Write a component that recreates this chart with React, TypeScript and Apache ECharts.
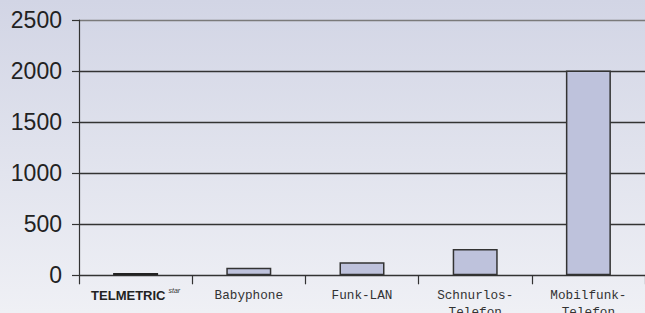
import React, { useEffect, useRef } from "react";
import * as echarts from "echarts";

const categories = ["TELMETRIC", "Babyphone", "Funk-LAN", "Schnurlos-\nTelefon", "Mobilfunk-\nTelefon"];
const values = [22, 75, 128, 258, 2006];
const yTicks = [0, 500, 1000, 1500, 2000, 2500];

export default function App() {
  const ref = useRef<HTMLDivElement>(null);
  useEffect(() => {
    const chart = echarts.init(ref.current!, null, { renderer: "svg" });
    chart.setOption({
      animation: false,
      backgroundColor: "transparent",
      grid: { left: 79, right: 0, top: 20, bottom: 37.7, containLabel: false, outerBoundsMode: "none" },
      xAxis: {
        type: "category",
        data: categories,
        axisLine: { lineStyle: { color: "#333", width: 1.2 } },
        axisTick: { show: true, length: 9, lineStyle: { color: "#333", width: 1.2 } },
        axisLabel: {
          margin: 12,
          interval: 0,
          fontFamily: "Liberation Mono",
          fontSize: 12.7,
          lineHeight: 17,
          color: "#333",
          formatter: (v: string) => (v === "TELMETRIC" ? "{t|TELMETRIC}{s|star}" : v),
          rich: {
            t: { fontFamily: "Liberation Sans", fontWeight: "bold", fontSize: 13, color: "#222", lineHeight: 17 },
            s: { fontFamily: "Liberation Sans", fontStyle: "italic", fontSize: 7, color: "#333", verticalAlign: "top", padding: [0, 0, 6, 3] },
          },
        },
      },
      yAxis: {
        type: "value",
        min: yTicks[0],
        max: yTicks[yTicks.length - 1],
        interval: 500,
        axisLine: { show: true, lineStyle: { color: "#333", width: 1.2 } },
        axisTick: { show: true, length: 7, lineStyle: { color: "#333", width: 1.2 } },
        axisLabel: {
          margin: 17,
          fontFamily: "Liberation Sans",
          fontSize: 23,
          color: "#222",
          formatter: (v: number) => String(v),
        },
        splitLine: {
          show: true,
          lineStyle: { color: ["#333", "#333", "#333", "#333", "#333", "#7a7a7a"], width: 1.3 },
        },
      },
      series: [
        {
          type: "bar",
          data: values.map((v, i) => ({
            value: v,
            itemStyle: i === 0 ? { color: "#222", borderColor: "#222", borderWidth: 1.5 } : undefined,
          })),
          barWidth: 45,
          itemStyle: { color: "#bec2dc", borderColor: "#333", borderWidth: 1.5 },
        },
      ],
    });
    return () => chart.dispose();
  }, []);
  return (
    <div
      style={{
        position: "fixed",
        left: 0,
        top: 0,
        width: 645,
        height: 313,
        background: "linear-gradient(to bottom, #d2d5e5 0%, #e2e4ee 55%, #eff0f5 100%)",
      }}
    >
      <div ref={ref} style={{ width: 645, height: 313 }} />
    </div>
  );
}
